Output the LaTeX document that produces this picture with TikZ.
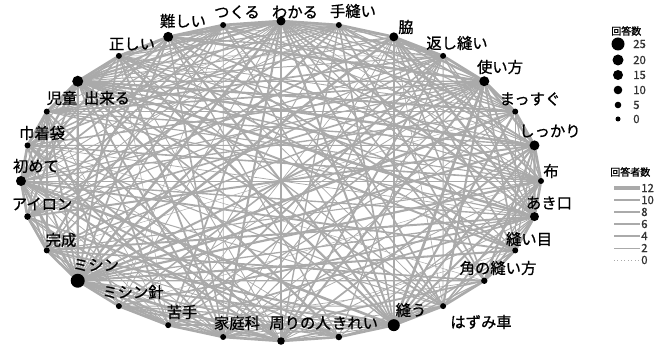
\documentclass[tikz,border=0pt]{standalone}
\usepackage{fontspec}
\setmainfont{Noto Sans CJK JP}
\newfontfamily\jp[FakeBold=0.8]{Noto Sans CJK JP}
\newfontfamily\jpb[FakeBold=1.5]{Noto Sans CJK JP}
\usetikzlibrary{backgrounds}
\definecolor{edgegray}{RGB}{170,170,170}
\begin{document}
\begin{tikzpicture}[x=0.75pt,y=-0.75pt,
  edge/.style={draw=edgegray, line cap=round},
  vert/.style={circle, fill=black, inner sep=0pt, minimum size=#1},
  lab/.style={font=\jp\fontsize{11.5}{12}\selectfont, inner sep=0pt, text=black},
  legtitle/.style={font=\jpb\fontsize{7.5}{8}\selectfont, inner sep=0pt, anchor=west},
  legnum/.style={font=\jp\fontsize{8.5}{9}\selectfont, inner sep=0pt, anchor=west, text=black!80},
  legline/.style={draw=edgegray}]
\useasboundingbox (0,0) rectangle (654,345);
\def\radii{{4.5,3,4.5,3,5,3,5,3,4.5,3,3.2,3,6,3.3,3.8,3,3,3,7,3,3.3,5,3,3,5.5,3,5,3}}
% vertices on the ellipse
\foreach \k in {0,...,27}{
  \pgfmathsetmacro\ang{90-\k*360/28}
  \pgfmathsetmacro\r{\radii[\k]}
  \pgfmathsetmacro\d{1.5*\r}
  \node[vert=\d pt] (n\k) at ({281+260*cos(\ang)},{181-160*sin(\ang)}) {};
}
% connectors
\pgfmathsetseed{4242}
\begin{scope}[on background layer]
\foreach \i in {0,...,26}{
  \pgfmathtruncatemacro\js{\i+1}
  \foreach \j in {\js,...,27}{
    \pgfmathsetmacro\ri{\radii[\i]}
    \pgfmathsetmacro\rj{\radii[\j]}
    \pgfmathsetmacro\p{0.56+0.08*(\ri+\rj-6)}
    \pgfmathsetmacro\u{rnd}
    \pgfmathsetmacro\w{0.3+1.15*rnd+0.11*(\ri+\rj-6)}
    \pgfmathtruncatemacro\adj{((\j-\i)==1)||((\j-\i)==27)}
    \ifnum\adj=1
      \draw[edge, line width=2pt] (n\i) -- (n\j);
    \else
      \pgfmathtruncatemacro\ok{\u<\p}
      \ifnum\ok=1
        \draw[edge, line width=\w pt] (n\i) -- (n\j);
      \fi
    \fi
  }
}
\end{scope}
% labels
\foreach \k/\x/\y/\t in {0/295/12/わかる, 1/353/11/手縫い, 2/406/27/脇, 3/457/43/返し縫い,
  4/500/67/使い方, 5/530/99/まっすぐ, 6/550/131/しっかり, 7/551/171/布, 8/549/203/あき口,
  9/529/239/縫い目, 10/498/268/角の縫い方, 11/481/322/はずみ車, 12/411/310/縫う,
  13/355/323/きれい, 14/300/323/周りの人, 15/237/323/家庭科, 16/182/312/苦手,
  17/133/292/ミシン針, 18/96/265/ミシン, 19/61/240/完成, 20/42/204/アイロン,
  21/36/166/初めて, 22/42/133/巾着袋, 23/62/98/児童, 24/107/98/出来る,
  25/132/44/正しい, 26/183/21/難しい, 27/237/12/つくる}{
  \node[lab] (l\k) at (\x,\y) {\t};
}
% legend: sizes
\node[legtitle] (t1) at (611,31) {回答数};
\foreach \v/\y/\r in {25/44/6.5, 20/60/5.5, 15/75/5, 10/90/4.3, 5/105/3.3, 0/119/2.5}{
  \pgfmathsetmacro\d{1.5*\r}
  \node[vert=\d pt] (s\v) at (618,\y) {};
  \node[legnum] (sv\v) at (633,\y) {\v};
}
% legend: widths
\node[legtitle] (t2) at (610,172) {回答者数};
\foreach \v/\y/\w in {12/188/2.3, 10/200/2.0, 8/212/1.7, 6/224/1.3, 4/236/1.0, 2/248/0.7}{
  \coordinate (wa\v) at (614,\y);
  \coordinate (wb\v) at (640,\y);
  \draw[legline, line width=\w pt] (wa\v) -- (wb\v);
  \node[legnum] (wv\v) at (641,\y) {\v};
}
\coordinate (wa0) at (614,260);
\coordinate (wb0) at (640,260);
\draw[legline, line width=0.6pt, dotted] (wa0) -- (wb0);
\node[legnum] (wv0) at (641,260) {0};
\end{tikzpicture}
\end{document}
